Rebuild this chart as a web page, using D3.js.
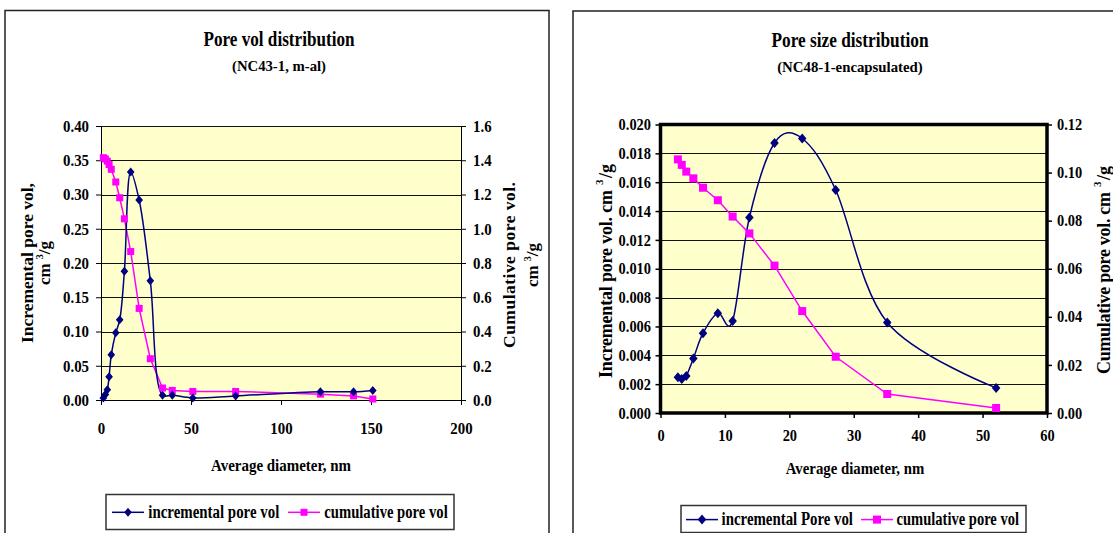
<!DOCTYPE html>
<html><head><meta charset="utf-8">
<script src="https://cdn.jsdelivr.net/npm/d3@7"></script>
<style>
body{margin:0;background:#fff;}
svg text{font-family:"Liberation Serif","Times New Roman",serif;font-weight:bold;fill:#000;}
</style></head><body>
<svg id="c" width="1113" height="533"></svg>
<script>
// ---------- Left chart data (NC43-1, m-al) ----------
const leftDiameter   = [1.3, 2.4, 3.5, 4.5, 5.7, 8.2, 10.4, 13.0, 16.5, 21.2, 27.4, 34.2, 39.6, 51.0, 74.8, 121.9, 140.3, 151.0];
const leftIncremental = [0.003, 0.008, 0.015, 0.034, 0.066, 0.098, 0.117, 0.188, 0.333, 0.292, 0.174, 0.007, 0.007, 0.003, 0.006, 0.012, 0.012, 0.014];
const leftCumulative  = [1.415, 1.408, 1.395, 1.375, 1.347, 1.273, 1.181, 1.058, 0.867, 0.535, 0.241, 0.070, 0.056, 0.050, 0.050, 0.034, 0.024, 0.006];
const leftXLabels  = ["0", "50", "100", "150", "200"];
const leftYLabels  = ["0.00", "0.05", "0.10", "0.15", "0.20", "0.25", "0.30", "0.35", "0.40"];
const leftY2Labels = ["0.0", "0.2", "0.4", "0.6", "0.8", "1.0", "1.2", "1.4", "1.6"];

// ---------- Right chart data (NC48-1-encapsulated) ----------
const rightDiameter   = [2.7, 3.3, 4.0, 5.1, 6.6, 8.9, 11.2, 13.8, 17.7, 22.0, 27.2, 35.2, 52.1];
const rightIncremental = [0.00248, 0.00236, 0.00257, 0.00378, 0.00553, 0.00692, 0.00638, 0.01355, 0.01872, 0.01903, 0.01546, 0.00628, 0.00174];
const rightCumulative  = [0.1055, 0.1032, 0.1004, 0.0976, 0.0937, 0.0885, 0.0817, 0.0747, 0.0613, 0.0424, 0.0234, 0.0079, 0.0021];
const rightXLabels  = ["0", "10", "20", "30", "40", "50", "60"];
const rightYLabels  = ["0.000", "0.002", "0.004", "0.006", "0.008", "0.010", "0.012", "0.014", "0.016", "0.018", "0.020"];
const rightY2Labels = ["0.00", "0.02", "0.04", "0.06", "0.08", "0.10", "0.12"];

const NAVY = "#000080", MAG = "#FF00FF", BG = "#FFFFCC";
const svg = d3.select("#c");
const diamond = r => `M0,${-r}L${r*0.85},0L0,${r}L${-r*0.85},0Z`;

function squeeze(sel, f) {
  sel.each(function () {
    const w = this.getComputedTextLength();
    d3.select(this).attr("textLength", w * f).attr("lengthAdjust", "spacingAndGlyphs");
  });
}
function txt(g, x, y, s, fs, opts = {}) {
  const t = g.append("text").attr("x", x).attr("y", y).attr("font-size", fs)
    .attr("text-anchor", opts.anchor || "middle").text(s);
  if (opts.len) t.attr("textLength", opts.len).attr("lengthAdjust", "spacingAndGlyphs");
  return t;
}

function drawPanel(c) {
  const g = svg.append("g");
  g.append("rect").attr("x", c.box[0]).attr("y", c.box[1]).attr("width", c.box[2]).attr("height", c.box[3])
    .attr("fill", "#fff").attr("stroke", "#222").attr("stroke-width", 1.5);

  const P = c.plot;
  const x = d3.scaleLinear().domain(c.xDomain).range([P.l, P.r]);
  const y = d3.scaleLinear().domain(c.yDomain).range([P.b, P.t]);
  const y2 = d3.scaleLinear().domain(c.y2Domain).range([P.b, P.t]);
  const yVals = c.yLabels.map(Number), y2Vals = c.y2Labels.map(Number), xVals = c.xLabels.map(Number);

  g.append("rect").attr("x", P.l).attr("y", P.t).attr("width", P.r - P.l).attr("height", P.b - P.t).attr("fill", BG);
  g.append("g").selectAll("line").data(yVals).join("line")
    .attr("x1", P.l).attr("x2", P.r)
    .attr("y1", d => Math.round(y(d)) + 0.5).attr("y2", d => Math.round(y(d)) + 0.5)
    .attr("stroke", "#111").attr("stroke-width", 1);

  const fixAxis = (ax, fs) => {
    ax.attr("font-size", fs).attr("font-family", null);
    ax.select(".domain").remove();
    ax.selectAll(".tick line").attr("stroke", "#000").attr("stroke-width", c.tickW);
    ax.selectAll("text").attr("fill", "#000");
    squeeze(ax.selectAll("text"), 0.9);
  };
  const ax = g.append("g").attr("transform", `translate(0,${P.b})`)
    .call(d3.axisBottom(x).tickValues(xVals).tickFormat((d, i) => c.xLabels[i]).tickSize(5).tickPadding(c.xPad).tickSizeOuter(0));
  fixAxis(ax, c.fs);
  const ay = g.append("g").attr("transform", `translate(${P.l},0)`)
    .call(d3.axisLeft(y).tickValues(yVals).tickFormat((d, i) => c.yLabels[i]).tickSize(5).tickPadding(c.yPad).tickSizeOuter(0));
  fixAxis(ay, c.fs);
  const ay2 = g.append("g").attr("transform", `translate(${P.r},0)`)
    .call(d3.axisRight(y2).tickValues(y2Vals).tickFormat((d, i) => c.y2Labels[i]).tickSize(5).tickPadding(c.y2Pad).tickSizeOuter(0));
  fixAxis(ay2, c.fs);

  if (c.thickFrame) {
    g.append("rect").attr("x", P.l).attr("y", P.t).attr("width", P.r - P.l).attr("height", P.b - P.t)
      .attr("fill", "none").attr("stroke", "#000").attr("stroke-width", 3.5);
  } else {
    g.append("line").attr("x1", P.l + 0.5).attr("x2", P.l + 0.5).attr("y1", P.t).attr("y2", P.b).attr("stroke", "#000");
    g.append("line").attr("x1", P.r + 0.5).attr("x2", P.r + 0.5).attr("y1", P.t).attr("y2", P.b).attr("stroke", "#000");
    g.append("line").attr("x1", P.l).attr("x2", P.r).attr("y1", P.b + 0.5).attr("y2", P.b + 0.5).attr("stroke", "#000");
  }

  // series
  const inc = c.diam.map((d, i) => [d, c.inc[i]]);
  const cum = c.diam.map((d, i) => [d, c.cum[i]]);
  g.append("path").datum(cum).attr("fill", "none").attr("stroke", MAG).attr("stroke-width", 1.5)
    .attr("d", d3.line().x(d => x(d[0])).y(d => y2(d[1])));
  g.append("path").datum(inc).attr("fill", "none").attr("stroke", NAVY).attr("stroke-width", 1.5)
    .attr("d", d3.line().curve(c.curve).x(d => x(d[0])).y(d => y(d[1])));
  g.append("g").selectAll("rect").data(cum).join("rect")
    .attr("x", d => x(d[0]) - c.sq / 2).attr("y", d => y2(d[1]) - c.sq / 2)
    .attr("width", c.sq).attr("height", c.sq).attr("fill", MAG);
  g.append("g").selectAll("path").data(inc).join("path")
    .attr("transform", d => `translate(${x(d[0])},${y(d[1])})`).attr("d", diamond(c.dm)).attr("fill", NAVY);

  // titles
  txt(g, c.titleX, c.titleY, c.title, 20, { len: c.titleLen });
  txt(g, c.titleX, c.subY, c.sub, 15.5, { len: c.subLen });
  txt(g, c.xtX, c.xtY, "Average diameter, nm", 17, { len: c.xtLen });

  // legend
  const L = c.leg;
  g.append("rect").attr("x", L.x).attr("y", L.y).attr("width", L.w).attr("height", L.h)
    .attr("fill", "#fff").attr("stroke", "#333").attr("stroke-width", 1.5);
  g.append("line").attr("x1", L.l1[0]).attr("x2", L.l1[1]).attr("y1", L.cy).attr("y2", L.cy).attr("stroke", NAVY).attr("stroke-width", 1.5);
  g.append("path").attr("transform", `translate(${(L.l1[0] + L.l1[1]) / 2},${L.cy})`).attr("d", diamond(c.dm)).attr("fill", NAVY);
  txt(g, L.t1[0], L.cy + 5.5, L.s1, 18, { anchor: "start", len: L.t1[1] });
  g.append("line").attr("x1", L.l2[0]).attr("x2", L.l2[1]).attr("y1", L.cy).attr("y2", L.cy).attr("stroke", MAG).attr("stroke-width", 1.5);
  g.append("rect").attr("x", (L.l2[0] + L.l2[1]) / 2 - c.sq / 2).attr("y", L.cy - c.sq / 2).attr("width", c.sq).attr("height", c.sq).attr("fill", MAG);
  txt(g, L.t2[0], L.cy + 5.5, L.s2, 18, { anchor: "start", len: L.t2[1] });
  return g;
}

// ---------- Left panel ----------
const gl = drawPanel({
  box: [5, 10.5, 544, 540],
  plot: { l: 101, r: 461, t: 126, b: 400 },
  xDomain: [0, 200], yDomain: [0, 0.40], y2Domain: [0, 1.6],
  xLabels: leftXLabels, yLabels: leftYLabels, y2Labels: leftY2Labels,
  diam: leftDiameter, inc: leftIncremental, cum: leftCumulative,
  curve: d3.curveCatmullRom.alpha(0.5),
  fs: 16.5, xPad: 17, yPad: 7, y2Pad: 7, tickW: 1, thickFrame: false, sq: 7, dm: 4.5,
  title: "Pore vol distribution", titleLen: 151, sub: "(NC43-1, m-al)", subLen: 94,
  titleX: 279, titleY: 46, subY: 71,
  xtX: 281, xtY: 471, xtLen: 140,
  leg: { x: 106, y: 494.5, w: 348, h: 35, cy: 512.3, l1: [112, 144], t1: [148.3, 131], s1: "incremental pore vol",
         l2: [288, 320], t2: [324.3, 123.4], s2: "cumulative pore vol" }
});
// left y titles
{
  const a = gl.append("g").attr("transform", "translate(0,263) rotate(-90)");
  a.append("text").attr("x", 0).attr("y", 33).attr("font-size", 17.5).attr("text-anchor", "middle")
    .attr("textLength", 160).attr("lengthAdjust", "spacing").text("Incremental pore vol,");
  const t2 = a.append("text").attr("x", 0).attr("y", 50).attr("font-size", 17).attr("text-anchor", "middle");
  t2.append("tspan").text("cm ");
  t2.append("tspan").attr("font-size", 10).attr("dy", -7).text("3");
  t2.append("tspan").attr("dy", 7).text("/g");
  const b = gl.append("g").attr("transform", "translate(0,265) rotate(-90)");
  b.append("text").attr("x", 0).attr("y", 515).attr("font-size", 17.5).attr("text-anchor", "middle")
    .attr("textLength", 166).attr("lengthAdjust", "spacing").text("Cumulative pore vol.");
  const t4 = b.append("text").attr("x", 0).attr("y", 538).attr("font-size", 17).attr("text-anchor", "middle");
  t4.append("tspan").text("cm ");
  t4.append("tspan").attr("font-size", 10).attr("dy", -7).text("3");
  t4.append("tspan").attr("dy", 7).text("/g");
}

// ---------- Right panel ----------
const gr = drawPanel({
  box: [573, 11, 580, 540],
  plot: { l: 660.5, r: 1047, t: 124.5, b: 413 },
  xDomain: [0, 60], yDomain: [0, 0.020], y2Domain: [0, 0.12],
  xLabels: rightXLabels, yLabels: rightYLabels, y2Labels: rightY2Labels,
  diam: rightDiameter, inc: rightIncremental, cum: rightCumulative,
  curve: d3.curveCardinal.tension(0),
  fs: 16, xPad: 12, yPad: 4.5, y2Pad: 5, tickW: 1.5, thickFrame: true, sq: 8, dm: 5,
  title: "Pore size distribution", titleLen: 157, sub: "(NC48-1-encapsulated)", subLen: 145.6,
  titleX: 850, titleY: 46.5, subY: 72,
  xtX: 855, xtY: 474, xtLen: 138.5,
  leg: { x: 681, y: 505.5, w: 345, h: 27, cy: 519.6, l1: [686, 718], t1: [721.6, 131.4], s1: "incremental Pore vol",
         l2: [861, 893], t2: [896.6, 122.4], s2: "cumulative pore vol" }
});
// right y titles
function rotTitle(g, cx, cy, main, mainLen) {
  const a = g.append("g").attr("transform", `translate(${cx},${cy}) rotate(-90)`);
  const start = -(mainLen + 28) / 2;
  a.append("text").attr("x", start).attr("y", 6).attr("font-size", 18).attr("text-anchor", "start")
    .attr("textLength", mainLen).attr("lengthAdjust", "spacing").text(main);
  a.append("text").attr("x", start + mainLen + 5).attr("y", -3).attr("font-size", 11).attr("text-anchor", "start").text("3");
  a.append("text").attr("x", start + mainLen + 12).attr("y", 6).attr("font-size", 18).attr("text-anchor", "start").text("/g");
}
rotTitle(gr, 606, 270, "Incremental pore vol. cm", 188);
rotTitle(gr, 1104, 269, "Cumulative pore vol. cm", 182);
</script>
</body></html>
